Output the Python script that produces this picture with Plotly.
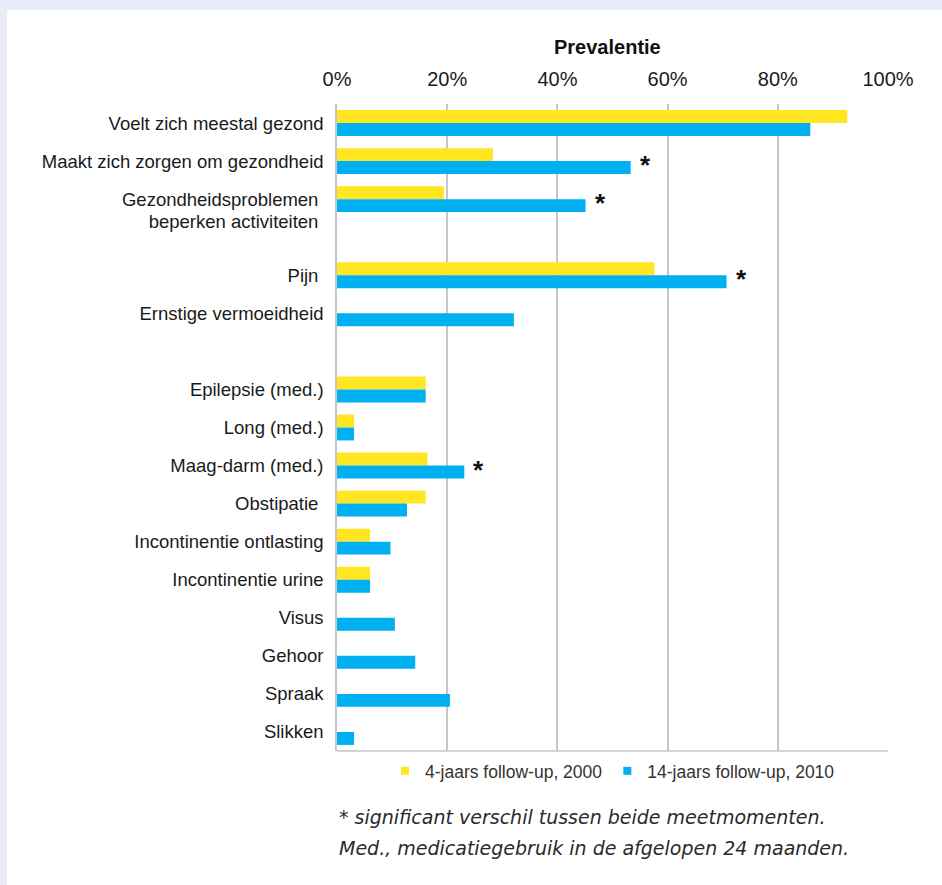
import plotly.graph_objects as go

# ---- data ----
categories = [
    "Voelt zich meestal gezond",
    "Maakt zich zorgen om gezondheid",
    "Gezondheidsproblemen",
    "",
    "Pijn",
    "Ernstige vermoeidheid",
    "",
    "Epilepsie (med.)",
    "Long (med.)",
    "Maag-darm (med.)",
    "Obstipatie",
    "Incontinentie ontlasting",
    "Incontinentie urine",
    "Visus",
    "Gehoor",
    "Spraak",
    "Slikken",
]
second_line = "beperken activiteiten"
followup_2000 = [92.6, 28.3, 19.4, None, 57.6, None, None, 16.1, 3.1, 16.4, 16.1, 6.0, 6.0, None, None, None, None]
followup_2010 = [85.9, 53.3, 45.1, None, 70.7, 32.1, None, 16.1, 3.1, 23.1, 12.7, 9.7, 6.0, 10.5, 14.2, 20.5, 3.1]
significant = [False, True, True, False, True, False, False, False, False, True, False, False, False, False, False, False, False]
x_ticks = [0, 20, 40, 60, 80, 100]
x_tick_labels = ["0%", "20%", "40%", "60%", "80%", "100%"]
series_names = ["4-jaars follow-up, 2000", "14-jaars follow-up, 2010"]

YELLOW = "#FFE620"
BLUE = "#00B0F0"
GRID = "#C6C6C6"
BAND = "#E8ECF8"

W, H = 942, 885
L, R, T, B = 337, 54, 104, 134
PW = W - L - R
PH = H - T - B

def px_x(p):
    return (p - L) / PW

def px_y(p):
    return (H - B - p) / PH

rows = list(range(len(categories)))

fig = go.Figure()
fig.add_trace(go.Bar(y=rows, x=followup_2000, orientation="h", marker_color=YELLOW,
                     marker_line_width=0, name=series_names[0], showlegend=False))
fig.add_trace(go.Bar(y=rows, x=followup_2010, orientation="h", marker_color=BLUE,
                     marker_line_width=0, name=series_names[1], showlegend=False))
# legend entries with small square swatches
for nm, col in zip(series_names, [YELLOW, BLUE]):
    fig.add_trace(go.Scatter(x=[None], y=[None], mode="markers", name=nm,
                             marker=dict(symbol="square", size=8, color=col)))

pad = {"Gezondheidsproblemen": "\u00a0", "Pijn": "\u00a0", "Obstipatie": "\u00a0"}
tickvals, ticktext = [], []
for i, c in enumerate(categories):
    if c:
        tickvals.append(i)
        ticktext.append(c + pad.get(c, ""))
tickvals.append(2.58)
ticktext.append(second_line + "\u00a0")

annotations = []
for i, s in enumerate(significant):
    if s:
        annotations.append(dict(x=followup_2010[i], y=i, xref="x", yref="y", text="<b>*</b>",
                                showarrow=False, xanchor="left", yanchor="middle", xshift=7, yshift=-4,
                                font=dict(family="Liberation Sans", size=26, color="#111111")))

annotations.append(dict(x=0.5, y=px_y(47), xref="paper", yref="paper", text="<b>Prevalentie</b>",
                        showarrow=False, xanchor="center", yanchor="middle", xshift=-5,
                        font=dict(family="Liberation Sans", size=20, color="#111111")))
foot_font = dict(family="DejaVu Sans", size=19, color="#2a2a2a")
annotations.append(dict(x=0, y=px_y(817), xref="paper", yref="paper",
                        text="<i>* significant verschil tussen beide meetmomenten.</i>",
                        showarrow=False, xanchor="left", yanchor="middle", font=foot_font))
annotations.append(dict(x=0, y=px_y(848), xref="paper", yref="paper",
                        text="<i>Med., medicatiegebruik in de afgelopen 24 maanden.</i>",
                        showarrow=False, xanchor="left", yanchor="middle", font=foot_font))

shapes = [
    dict(type="line", xref="paper", yref="paper", x0=0, x1=1, y0=0, y1=0,
         line=dict(color=GRID, width=1.5)),
    dict(type="rect", xref="paper", yref="paper", x0=px_x(0), x1=px_x(W), y0=px_y(10), y1=px_y(0),
         fillcolor=BAND, line_width=0, layer="above"),
    dict(type="rect", xref="paper", yref="paper", x0=px_x(0), x1=px_x(7), y0=px_y(H), y1=px_y(0),
         fillcolor=BAND, line_width=0, layer="above"),
]

fig.update_layout(
    width=W, height=H,
    margin=dict(l=L, r=R, t=T, b=B, pad=0),
    paper_bgcolor="white", plot_bgcolor="white",
    barmode="group", bargap=0.32, bargroupgap=0,
    font=dict(family="Liberation Sans", color="#1a1a1a"),
    xaxis=dict(range=[0, 100], side="top", tickmode="array", tickvals=x_ticks, ticktext=x_tick_labels,
               showgrid=True, gridcolor=GRID, gridwidth=1.5, zeroline=False,
               showline=False, ticks="", tickfont=dict(size=20, color="#1a1a1a"),
               ticklabelstandoff=13, fixedrange=True),
    yaxis=dict(range=[16.5, -0.5], tickmode="array", tickvals=tickvals, ticktext=ticktext,
               showgrid=False, zeroline=False, showline=True, linecolor=GRID, linewidth=1.5,
               ticks="", tickfont=dict(size=18.5, color="#1a1a1a"), ticklabelstandoff=8,
               fixedrange=True),
    legend=dict(orientation="h", x=0.5, xanchor="center", y=px_y(771), yanchor="middle",
                font=dict(size=17.5, color="#333333"), bgcolor="rgba(0,0,0,0)",
                itemwidth=30, tracegroupgap=0),
    annotations=annotations,
    shapes=shapes,
)

fig.write_html("out.html", config={"displayModeBar": False},
               post_script="document.body.style.margin='0';document.body.style.padding='0';")
